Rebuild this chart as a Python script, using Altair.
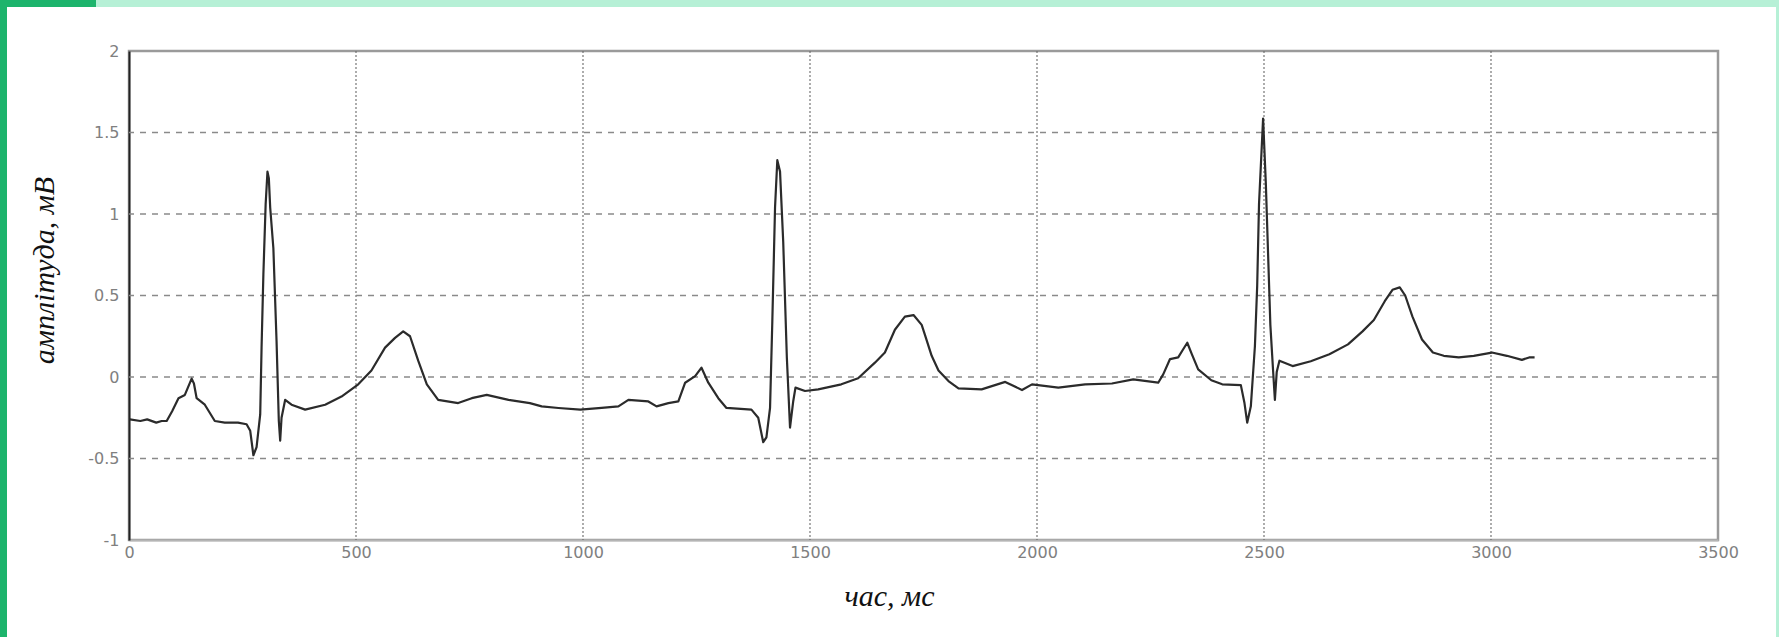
import altair as alt
import pandas as pd

# ECG trace (time in ms, amplitude in mV)
time_ms = [
    2, 25, 40, 60, 72, 83, 95, 109, 123, 138, 143, 149, 167, 189, 211, 240, 259, 267, 274, 281,
    289, 292, 296, 301, 305, 308, 311, 318, 325, 330, 333, 336, 344, 358, 388, 432, 468, 505,
    534, 564, 586, 604, 619, 637, 656, 681, 725, 755, 788, 836, 883,
    909, 946, 994, 1041, 1078, 1100, 1144, 1162, 1188, 1210, 1225, 1247, 1261, 1276, 1298,
    1316, 1371, 1386, 1397, 1404, 1412, 1417, 1423, 1428, 1434, 1441, 1449, 1456, 1463, 1468,
    1489, 1518, 1569, 1606, 1643, 1665, 1687, 1709, 1728, 1746, 1753, 1768, 1783, 1805, 1827,
    1878, 1930, 1967, 1989, 2047, 2106, 2165, 2212, 2267, 2278, 2293, 2311, 2322, 2331, 2341,
    2355, 2384, 2408, 2449, 2457, 2463, 2471, 2480, 2485, 2489, 2498, 2504, 2514, 2520, 2524,
    2528, 2534, 2563, 2603, 2644, 2685, 2717, 2742, 2766, 2783, 2799, 2811, 2827, 2848, 2872,
    2896, 2929, 2962, 3002, 3035, 3068, 3084, 3096,
]
amplitude_mv = [
    -0.26, -0.27, -0.26, -0.28, -0.27, -0.27, -0.21, -0.13, -0.11, -0.01, -0.04, -0.13, -0.17,
    -0.27, -0.28, -0.28, -0.29, -0.33, -0.48, -0.43, -0.23, 0.18, 0.63, 1.06, 1.26, 1.22, 1.04,
    0.79, 0.22, -0.27, -0.39, -0.25, -0.14, -0.17, -0.20, -0.17, -0.12, -0.045, 0.04, 0.18,
    0.24, 0.28, 0.25, 0.10, -0.045, -0.14, -0.16, -0.13, -0.11, -0.14, -0.16,
    -0.18, -0.19, -0.20, -0.19, -0.18, -0.14, -0.15, -0.18, -0.16, -0.15, -0.035, 0.005, 0.057,
    -0.035, -0.13, -0.19, -0.20, -0.25, -0.40, -0.37, -0.19, 0.34, 1.04, 1.33, 1.26, 0.83,
    0.12, -0.31, -0.15, -0.065, -0.086, -0.076, -0.045, -0.008, 0.088, 0.15, 0.29, 0.37, 0.38,
    0.32, 0.26, 0.13, 0.04, -0.025, -0.07, -0.076, -0.03, -0.08, -0.045, -0.065, -0.045, -0.04,
    -0.015, -0.035, 0.016, 0.11, 0.12, 0.17, 0.21, 0.14, 0.047, -0.02, -0.045, -0.05, -0.16,
    -0.28, -0.18, 0.19, 0.56, 1.06, 1.585, 1.19, 0.32, 0.04, -0.14, 0.03, 0.10, 0.067, 0.097,
    0.14, 0.20, 0.28, 0.35, 0.465, 0.535, 0.55, 0.50, 0.37, 0.23, 0.15, 0.13, 0.12, 0.13, 0.15,
    0.13, 0.105, 0.12, 0.12,
]

x_ticks = [0, 500, 1000, 1500, 2000, 2500, 3000, 3500]
y_ticks = [-1, -0.5, 0, 0.5, 1, 1.5, 2]
x_grid = [500, 1000, 1500, 2000, 2500, 3000]
y_grid = [-0.5, 0, 0.5, 1, 1.5]

df = pd.DataFrame({"t": time_ms, "v": amplitude_mv})
xs = alt.Scale(domain=[0, 3500], nice=False, zero=False)
ys = alt.Scale(domain=[-1, 2], nice=False, zero=False)

x_axis = alt.Axis(
    values=x_ticks, labelExpr="toString(datum.value)", title="час, мс", grid=False, ticks=False,
    domainColor="#b5b5b5", domainWidth=2, labelFlush=False, labelOverlap=False,
    labelPadding=4, labelColor="#808080", labelFont="DejaVu Sans", labelFontSize=16,
    titleFont="Liberation Serif", titleFontStyle="italic", titleFontWeight="normal",
    titleFontSize=30, titleColor="#111111", titleX=760, titleY=65,
    titleAlign="center", titleBaseline="alphabetic")
y_axis = alt.Axis(
    values=y_ticks, labelExpr="toString(datum.value)", title="амплітуда, мВ", grid=False,
    ticks=False, domainColor="#222222", domainWidth=2, labelFlush=False, labelOverlap=False,
    labelPadding=10, labelColor="#808080", labelFont="DejaVu Sans", labelFontSize=16,
    titleFont="Liberation Serif", titleFontStyle="italic", titleFontWeight="normal",
    titleFontSize=30, titleColor="#111111", titleX=-76, titleY=219,
    titleAlign="center", titleBaseline="alphabetic", titleAngle=-90)

one = pd.DataFrame({"a": [0]})

# page decoration (green frame of the slide)
deco_left = alt.Chart(one).mark_rect(color="#1db46c").encode(
    x=alt.value(-129), x2=alt.value(-122), y=alt.value(-51), y2=alt.value(586))
deco_top = alt.Chart(one).mark_rect(color="#b6f0d6").encode(
    x=alt.value(-129), x2=alt.value(1650), y=alt.value(-51), y2=alt.value(-44))
deco_corner = alt.Chart(one).mark_rect(color="#1db46c").encode(
    x=alt.value(-129), x2=alt.value(-33), y=alt.value(-51), y2=alt.value(-44))
deco_right = alt.Chart(one).mark_rect(color="#b6f0d6").encode(
    x=alt.value(1647), x2=alt.value(1650), y=alt.value(-51), y2=alt.value(586))

grid_x = alt.Chart(pd.DataFrame({"g": x_grid})).mark_rule(
    color="#6a6a6a", strokeWidth=1.1, strokeDash=[2, 2]).encode(
    x=alt.X("g:Q", scale=xs, axis=x_axis))
grid_y = alt.Chart(pd.DataFrame({"g": y_grid})).mark_rule(
    color="#8a8a8a", strokeWidth=1.3, strokeDash=[6, 6]).encode(
    y=alt.Y("g:Q", scale=ys, axis=y_axis))

line = alt.Chart(df).mark_line(color="#2b2b2b", strokeWidth=2.2, strokeJoin="round").encode(
    x=alt.X("t:Q", scale=xs, axis=x_axis),
    y=alt.Y("v:Q", scale=ys, axis=y_axis),
)

chart = alt.layer(grid_x, grid_y, line, deco_left, deco_top, deco_corner, deco_right).properties(
    width=1589, height=489,
    autosize=alt.AutoSizeParams(type="none"),
    padding={"left": 129, "top": 51, "right": 61, "bottom": 97},
    background="white",
).configure_view(stroke="#9a9a9a", strokeWidth=2.5)

chart.save("out.html", embed_options={"renderer": "svg", "actions": False})
